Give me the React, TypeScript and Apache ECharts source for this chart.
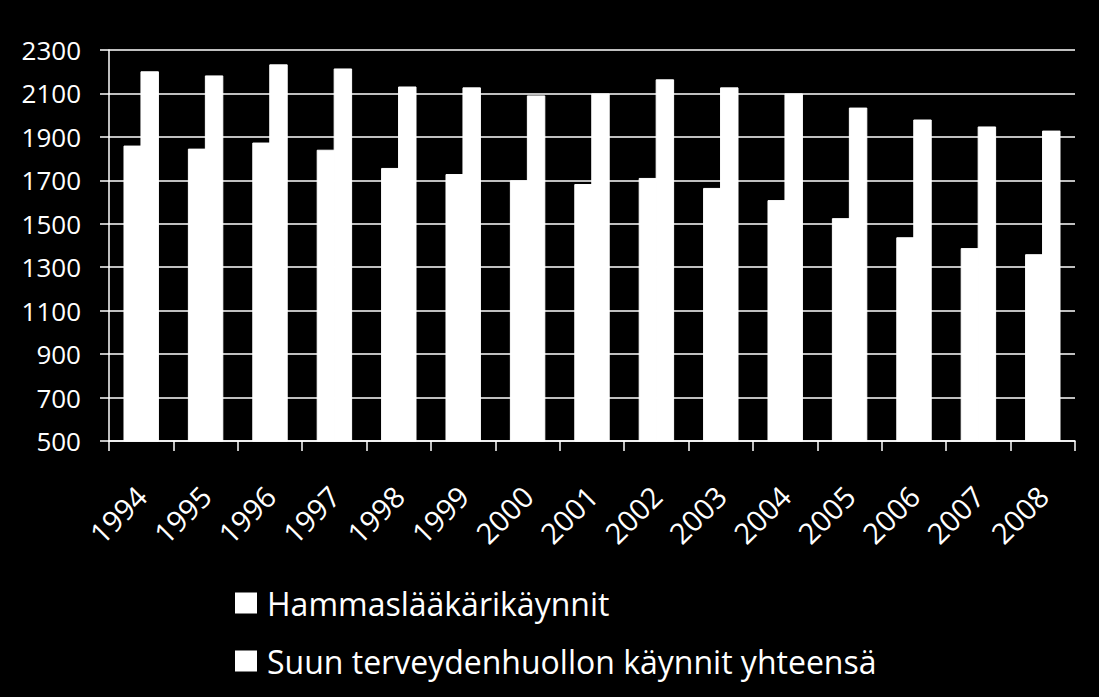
import React, { useEffect, useRef } from "react";
import * as echarts from "echarts";

const years = ["1994","1995","1996","1997","1998","1999","2000","2001","2002","2003","2004","2005","2006","2007","2008"];
const hammas = [1860,1846,1874,1841,1757,1729,1700,1683,1711,1665,1609,1526,1438,1388,1360];
const suun = [2202,2183,2234,2215,2132,2128,2091,2100,2165,2128,2100,2035,1980,1948,1929];
const seriesNames = ["Hammaslääkärikäynnit", "Suun terveydenhuollon käynnit yhteensä"];

const FONT = "Open Sans";

export default function App() {
  const ref = useRef<HTMLDivElement>(null);
  useEffect(() => {
    document.body.style.margin = "0";
    document.body.style.background = "#000";
    const chart = echarts.init(ref.current!, null, { renderer: "svg" });
    chart.setOption({
      animation: false,
      backgroundColor: "#000",
      textStyle: { fontFamily: FONT },
      grid: { left: 109, right: 24, top: 50, bottom: 256, containLabel: false },
      legend: {
        orient: "vertical",
        left: 230,
        top: 581,
        itemWidth: 20,
        itemHeight: 19,
        itemGap: 24,
        icon: "rect",
        textStyle: { color: "#fff", fontSize: 32, fontFamily: FONT, lineHeight: 34, padding: [0, 0, 0, 6] },
        data: seriesNames,
      },
      xAxis: {
        type: "category",
        data: years,
        axisLine: { lineStyle: { color: "#fff", width: 1.5 } },
        axisTick: { show: true, length: 10, lineStyle: { color: "#fff", width: 1.5 } },
        axisLabel: { color: "#fff", fontSize: 29, fontFamily: FONT, rotate: 45, margin: 50, interval: 0 },
      },
      yAxis: {
        type: "value",
        min: 500,
        max: 2300,
        interval: 200,
        axisLine: { show: true, lineStyle: { color: "#fff", width: 1.5 } },
        axisTick: { show: true, length: 9, lineStyle: { color: "#fff", width: 1.5 } },
        axisLabel: { color: "#fff", fontSize: 26, fontFamily: FONT, margin: 28, formatter: (v: number) => String(v) },
        splitLine: { show: true, lineStyle: { color: "#fff", width: 1.5 } },
      },
      series: [
        { name: seriesNames[0], type: "bar", data: hammas, itemStyle: { color: "#fff", borderColor: "#fff", borderWidth: 1 }, barGap: "-8%", barCategoryGap: "45%" },
        { name: seriesNames[1], type: "bar", data: suun, itemStyle: { color: "#fff", borderColor: "#fff", borderWidth: 1 }, barGap: "-8%", barCategoryGap: "45%" },
      ],
    });
    return () => chart.dispose();
  }, []);
  return <div ref={ref} style={{ width: 1099, height: 697, background: "#000" }} />;
}
